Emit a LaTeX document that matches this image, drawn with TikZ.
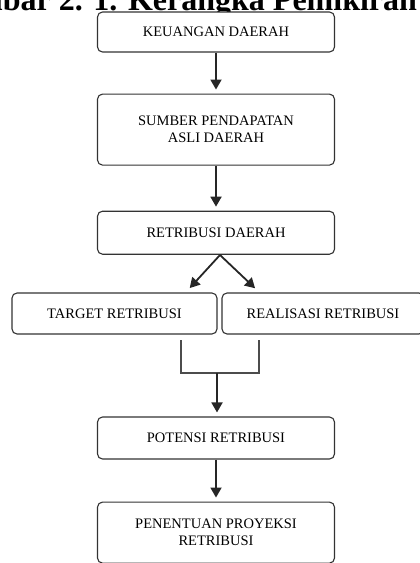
\documentclass[tikz,border=0pt]{standalone}
\usepackage{fontspec}
\setmainfont{Liberation Serif}
\usetikzlibrary{arrows.meta, positioning}
\tikzset{
    box/.style={rectangle, draw=black!80, fill=white, rounded corners=5pt, line width=1.1pt, minimum width=237pt, minimum height=42pt, inner sep=2pt, align=center, font=\fontsize{14.5}{17}\selectfont},
    arrow/.style={-{Triangle[length=10pt, width=11pt]}, line width=1.8pt, draw=black!85, shorten >=4pt},
    bracket/.style={line width=1.8pt, draw=black!70}
}
\begin{document}
\begin{tikzpicture}[x=1pt, y=-1pt]
        \useasboundingbox (0,0) rectangle (420,563);
        \clip (0,0) rectangle (420,563);
        \node[font=\fontsize{32}{34}\selectfont\bfseries, anchor=base west, inner sep=0pt] (title) at (-65,10) {Gambar 2. 1. Kerangka Pemikiran};
        \node[box, minimum height=40pt] (keuangan) at (216,32) {KEUANGAN DAERAH};
        \node[box, below=41pt of keuangan, minimum height=71pt] (pad) {SUMBER PENDAPATAN\\ASLI DAERAH};
        \node[box, below=45pt of pad, minimum height=43pt] (retribusi) {RETRIBUSI DAERAH};
        \node[box, minimum width=205pt, minimum height=41pt] (target) at (114.5,313.5) {TARGET RETRIBUSI};
        \node[box, minimum width=202pt, minimum height=41pt] (realisasi) at (323,313.5) {REALISASI RETRIBUSI};
        \node[box, minimum height=42pt] (potensi) at (216,438) {POTENSI RETRIBUSI};
        \node[box, below=42pt of potensi, minimum height=61pt] (penentuan) {PENENTUAN PROYEKSI\\RETRIBUSI};
        % split and join points
        \coordinate (split) at (220,255);
        \coordinate (tl) at (187,291);
        \coordinate (tr) at (258,291);
        \coordinate (bl) at (181,340);
        \coordinate (br) at (259,340);
        \coordinate (join) at (217,373);
        \draw[arrow] (keuangan) -- (pad);
        \draw[arrow] (pad) -- (retribusi);
        \draw[arrow] (split) -- (tl);
        \draw[arrow] (split) -- (tr);
        \draw[bracket] (bl) -- (bl |- join) -- (br |- join) -- (br);
        \draw[arrow] (join) -- (join |- potensi.north);
        \draw[arrow] (potensi) -- (penentuan);
    \end{tikzpicture}
\end{document}
